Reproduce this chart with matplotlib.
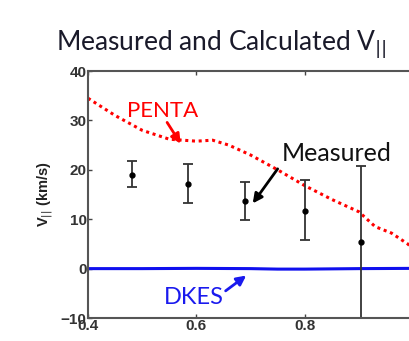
import matplotlib.pyplot as plt
import numpy as np

# measured V|| with error bars
meas_r = [0.481, 0.585, 0.689, 0.800, 0.904]
meas_v = [19.0, 17.1, 13.6, 11.7, 5.3]
err_lo = [2.5, 3.8, 3.7, 6.0, 15.2]
err_hi = [2.7, 4.0, 4.0, 6.3, 15.5]

# PENTA calculation (red dotted)
penta_r = [0.40, 0.45, 0.50, 0.55, 0.60, 0.63, 0.66, 0.70, 0.75, 0.80, 0.85, 0.90, 0.93, 0.96, 0.99, 1.00]
penta_v = [34.5, 31.0, 28.0, 26.2, 25.8, 26.0, 25.0, 23.0, 20.0, 16.8, 14.0, 11.5, 8.5, 7.2, 5.0, 4.0]

# DKES calculation (blue solid)
dkes_r = [0.40, 0.50, 0.60, 0.70, 0.75, 0.80, 0.90, 1.00]
dkes_v = [0.0, 0.0, 0.05, 0.0, -0.1, -0.1, 0.0, 0.05]

fig = plt.figure(figsize=(4.1, 3.41), dpi=100)
ax = fig.add_axes([0.2146, 0.0674, 0.793, 0.7243])

ax.plot(penta_r, penta_v, color='red', ls=(0, (1, 1.2)), lw=2.2)
ax.plot(dkes_r, dkes_v, color='#1010ee', lw=2.2)
ax.errorbar(meas_r, meas_v, yerr=[err_lo, err_hi], fmt='o', ms=3.5,
            color='black', ecolor='#333333', elinewidth=1.3, capsize=3.3, capthick=1.3)

ax.set_xlim(0.4, 1.0)
ax.set_ylim(-10, 40)
ax.set_xticks([0.4, 0.6, 0.8])
ax.set_yticks([-10, 0, 10, 20, 30, 40])
ax.set_xticklabels(['0.4', '0.6', '0.8'])
ax.tick_params(direction='in', length=3, top=True, right=True, width=1,
               labelsize=11, pad=1, color='#444444')
for lab in ax.get_xticklabels() + ax.get_yticklabels():
    lab.set_fontweight('bold')
    lab.set_family('Liberation Sans')
    lab.set_color('#333333')
for sp in ax.spines.values():
    sp.set_color('#555555')
    sp.set_linewidth(1.5)

ax.set_ylabel(r'V$_{||}$ (km/s)', fontsize=10.5, fontweight='bold', labelpad=4,
              family='Liberation Sans', color='#222222')

fig.text(0.54, 0.87, r'Measured and Calculated V$_{||}$', ha='center', va='center',
         fontsize=19, family='Lato', color='#1a1a2a')

# labels and arrows
ax.text(0.538, 32.0, 'PENTA', ha='center', va='center', fontsize=16, family='Lato', color='red')
ax.text(0.859, 23.3, 'Measured', ha='center', va='center', fontsize=18, family='Lato', color='#111111')
ax.text(0.596, -5.9, 'DKES', ha='center', va='center', fontsize=17, family='Lato', color='#1a1aee')

arrow = dict(arrowstyle='-|>', lw=2, shrinkA=0, shrinkB=0, mutation_scale=14)
ax.annotate('', xy=(0.571, 25.3), xytext=(0.546, 29.6), arrowprops=dict(arrow, color='red'))
ax.annotate('', xy=(0.704, 13.2), xytext=(0.750, 20.2), arrowprops=dict(arrow, color='black'))
ax.annotate('', xy=(0.692, -1.4), xytext=(0.654, -4.5), arrowprops=dict(arrow, color='#1a1aee'))

fig.savefig('out.png', dpi=100)
